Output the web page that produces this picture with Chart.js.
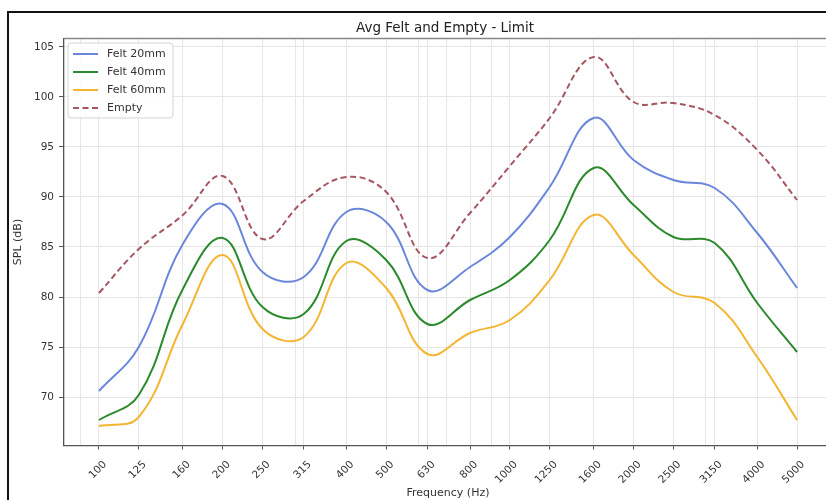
<!DOCTYPE html>
<html>
<head>
<meta charset="utf-8">
<script src="https://cdn.jsdelivr.net/npm/chart.js@4.4.1/dist/chart.umd.min.js"></script>
<style>
  html, body { margin: 0; padding: 0; background: #fff; overflow: hidden; }
  #wrap { position: absolute; left: 0; top: 0; width: 900px; height: 510px; }
  #frame { position: absolute; left: 7px; top: 11px; width: 1000px; height: 1000px; border: 2px solid #111; pointer-events: none; }
</style>
</head>
<body>
<div id="wrap"><canvas id="splChart" width="900" height="510"></canvas></div>
<div id="frame"></div>
<script>
// 1/3 octave bands (Hz)
const frequencies = [100, 125, 160, 200, 250, 315, 400, 500, 630, 800, 1000, 1250, 1600, 2000, 2500, 3150, 4000, 5000];
// extra log grid lines without label
const minorGrid = [90, 300, 600, 700, 900, 3000, 6000];
const splTicks = [70, 75, 80, 85, 90, 95, 100, 105];

const felt20 = [70.6, 75.0, 85.3, 89.3, 82.5, 82.0, 88.5, 87.5, 80.7, 83.0, 86.0, 91.0, 97.9, 93.7, 91.7, 90.9, 86.4, 80.9];
const felt40 = [67.7, 70.2, 80.8, 85.9, 79.0, 78.3, 85.6, 83.7, 77.3, 79.7, 81.7, 85.7, 92.9, 89.2, 86.0, 85.4, 79.4, 74.5];
const felt60 = [67.1, 68.0, 77.3, 84.2, 76.8, 76.0, 83.4, 80.9, 74.3, 76.4, 77.7, 81.7, 88.2, 84.2, 80.5, 79.4, 74.0, 67.7];
const empty  = [80.4, 84.8, 88.2, 92.1, 85.8, 89.6, 92.0, 90.5, 83.9, 88.4, 93.1, 97.9, 104.0, 99.5, 99.4, 98.2, 94.7, 89.7];

const FONT = "'DejaVu Sans', sans-serif";

function toPoints(values) {
    return frequencies.map((f, i) => ({ x: f, y: values[i] }));
}

// title, legend and top spine
const decorPlugin = {
    id: 'decor',
    afterDraw(chart) {
        const ctx = chart.ctx;
        const area = chart.chartArea;
        ctx.save();

        // top spine
        ctx.strokeStyle = '#888';
        ctx.lineWidth = 1.5;
        ctx.beginPath();
        ctx.moveTo(area.left, area.top);
        ctx.lineTo(area.right, area.top);
        ctx.stroke();

        // title
        ctx.fillStyle = '#222';
        ctx.font = '13.5px ' + FONT;
        ctx.textAlign = 'center';
        ctx.textBaseline = 'middle';
        ctx.fillText('Avg Felt and Empty - Limit', 445, 28);

        // legend box
        const bx = 68, by = 43, bw = 105, bh = 75, r = 3;
        ctx.fillStyle = 'rgba(255,255,255,0.85)';
        ctx.strokeStyle = '#d4d4d4';
        ctx.lineWidth = 1;
        ctx.beginPath();
        ctx.roundRect(bx, by, bw, bh, r);
        ctx.fill();
        ctx.stroke();

        ctx.font = '11px ' + FONT;
        ctx.textAlign = 'left';
        chart.data.datasets.forEach((ds, i) => {
            const y = 54 + i * 18;
            ctx.strokeStyle = ds.borderColor;
            ctx.lineWidth = ds.borderWidth;
            ctx.setLineDash(ds.borderDash || []);
            ctx.beginPath();
            ctx.moveTo(73, y);
            ctx.lineTo(98, y);
            ctx.stroke();
            ctx.setLineDash([]);
            ctx.fillStyle = '#333';
            ctx.fillText(ds.label, 107, y);
        });

        ctx.restore();
    }
};

const ctx = document.getElementById('splChart').getContext('2d');

new Chart(ctx, {
    type: 'line',
    data: {
        datasets: [
            {
                label: 'Felt 20mm',
                data: toPoints(felt20),
                borderColor: '#6a87dc',
                borderWidth: 2
            },
            {
                label: 'Felt 40mm',
                data: toPoints(felt40),
                borderColor: '#2b8a2b',
                borderWidth: 2
            },
            {
                label: 'Felt 60mm',
                data: toPoints(felt60),
                borderColor: '#f4b532',
                borderWidth: 2
            },
            {
                label: 'Empty',
                data: toPoints(empty),
                borderColor: '#a65660',
                borderWidth: 2,
                borderDash: [6, 3.5]
            }
        ]
    },
    options: {
        responsive: false,
        animation: false,
        events: [],
        elements: {
            point: { radius: 0 },
            line: { tension: 0.4, fill: false }
        },
        layout: {
            padding: { left: 8, top: 38.5, right: 68, bottom: 6.5 }
        },
        plugins: {
            legend: { display: false },
            title: { display: false },
            tooltip: { enabled: false }
        },
        scales: {
            x: {
                type: 'logarithmic',
                min: 82.2,
                max: 6081,
                afterBuildTicks: (scale) => {
                    scale.ticks = [...frequencies, ...minorGrid]
                        .sort((a, b) => a - b)
                        .map(v => ({ value: v }));
                },
                afterFit: (scale) => { scale.height = 58; },
                ticks: {
                    autoSkip: false,
                    minRotation: 45,
                    maxRotation: 45,
                    labelOffset: 6,
                    padding: 9,
                    color: '#333',
                    font: { family: FONT, size: 10.5 },
                    callback: (value) => frequencies.includes(value) ? String(value) : ''
                },
                grid: {
                    color: '#e6e6e6',
                    lineWidth: 1,
                    tickLength: 4,
                    tickColor: (c) => (c.tick && frequencies.includes(c.tick.value)) ? '#555' : 'rgba(0,0,0,0)'
                },
                border: { display: true, color: '#555', width: 1.3 },
                title: {
                    display: true,
                    text: 'Frequency (Hz)',
                    color: '#333',
                    font: { family: FONT, size: 11 },
                    padding: { top: 4, bottom: 4 }
                }
            },
            y: {
                type: 'linear',
                min: 65.15,
                max: 105.85,
                afterBuildTicks: (scale) => {
                    scale.ticks = splTicks.map(v => ({ value: v }));
                },
                afterFit: (scale) => { scale.width = 56; },
                ticks: {
                    padding: 5,
                    color: '#333',
                    font: { family: FONT, size: 10.5 }
                },
                grid: {
                    color: '#e6e6e6',
                    lineWidth: 1,
                    tickLength: 5,
                    tickColor: '#555'
                },
                border: { display: true, color: '#555', width: 1.3 },
                title: {
                    display: true,
                    text: 'SPL (dB)',
                    color: '#333',
                    font: { family: FONT, size: 11 },
                    padding: { top: 4, bottom: 4 }
                }
            }
        }
    },
    plugins: [decorPlugin]
});
</script>
</body>
</html>
